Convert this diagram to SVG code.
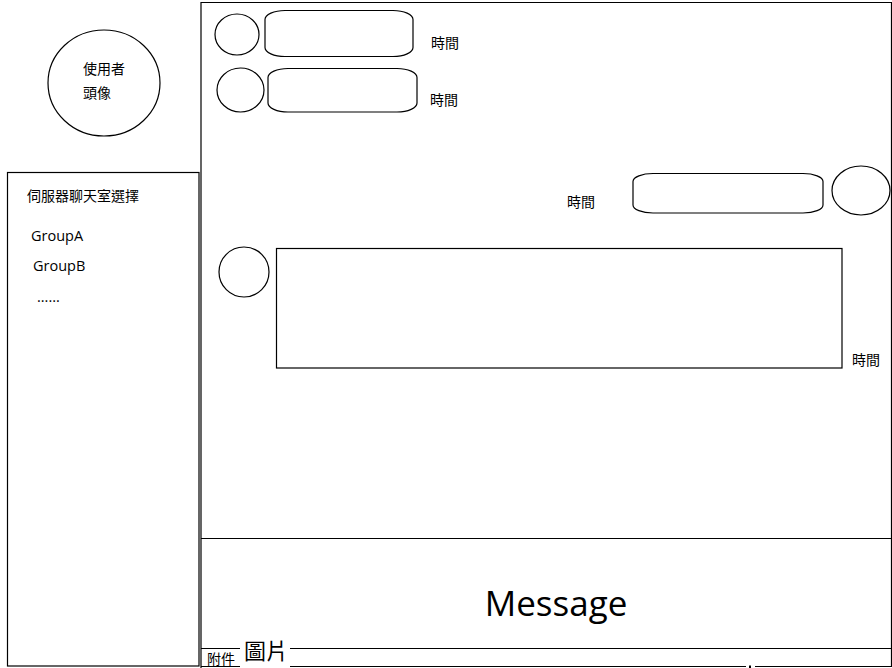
<svg xmlns="http://www.w3.org/2000/svg" width="892" height="668" viewBox="0 0 892 668">
<style>
.s{fill:none;stroke:#000;stroke-width:1.2}
.t{font-family:"Noto Sans CJK TC","Liberation Sans",sans-serif;font-size:14px;fill:#000}
.g{font-family:"Open Sans","Liberation Sans",sans-serif;font-size:14.5px;fill:#000}
</style>
<rect width="892" height="668" fill="#fff"/>
<g id="frame">
<path class="s" d="M201,668 V2.5 H891.5 V666"/>
<line class="s" x1="201" y1="538.5" x2="891.5" y2="538.5"/>
<line class="s" x1="201" y1="648.5" x2="891.5" y2="648.5"/>
<line class="s" x1="201" y1="666.5" x2="746" y2="666.5"/>
<line class="s" x1="755" y1="666.5" x2="892" y2="666.5"/>
<rect x="749" y="665.5" width="2" height="2.5" fill="#000"/>
</g>
<g id="user-avatar">
<ellipse class="s" cx="104" cy="83" rx="56" ry="53"/>
<text class="t" x="83" y="74">使用者</text>
<text class="t" x="83" y="98">頭像</text>
</g>
<g id="room-list">
<rect class="s" x="7.5" y="172.5" width="191.5" height="493.5"/>
<text class="t" x="27" y="201">伺服器聊天室選擇</text>
<text class="g" x="31" y="241">GroupA</text>
<text class="g" x="33" y="271">GroupB</text>
<text class="g" x="37" y="302" font-size="12">......</text>
</g>
<g id="msg1">
<ellipse class="s" cx="237" cy="34.5" rx="22" ry="20.5"/>
<rect class="s" x="265" y="10.5" width="148" height="46" rx="20" ry="9"/>
<text class="t" x="431" y="48">時間</text>
</g>
<g id="msg2">
<ellipse class="s" cx="240.5" cy="90" rx="23.5" ry="22"/>
<rect class="s" x="268" y="68.5" width="149" height="43.5" rx="20" ry="9"/>
<text class="t" x="430" y="105">時間</text>
</g>
<g id="msg3">
<text class="t" x="567" y="207">時間</text>
<rect class="s" x="633" y="173.5" width="190" height="39.5" rx="20" ry="8"/>
<ellipse class="s" cx="861" cy="190.5" rx="29" ry="24.5"/>
</g>
<g id="msg4">
<ellipse class="s" cx="244" cy="272" rx="25" ry="25"/>
<rect class="s" x="276.5" y="248.5" width="565.5" height="119.5"/>
<text class="t" x="852" y="365">時間</text>
</g>
<g id="message-input">
<text x="556" y="616" text-anchor="middle" font-family="'Open Sans','Liberation Sans',sans-serif" font-size="35" fill="#000">Message</text>
</g>
<g id="attach">
<text class="t" x="207" y="664">附件</text>
</g>
<g id="image-btn">
<rect x="240" y="632" width="50" height="36" fill="#fff"/>
<text x="244" y="659" font-family="'Noto Sans CJK TC',sans-serif" font-size="22" fill="#000">圖片</text>
</g>
<g id="connectors"></g>
</svg>
